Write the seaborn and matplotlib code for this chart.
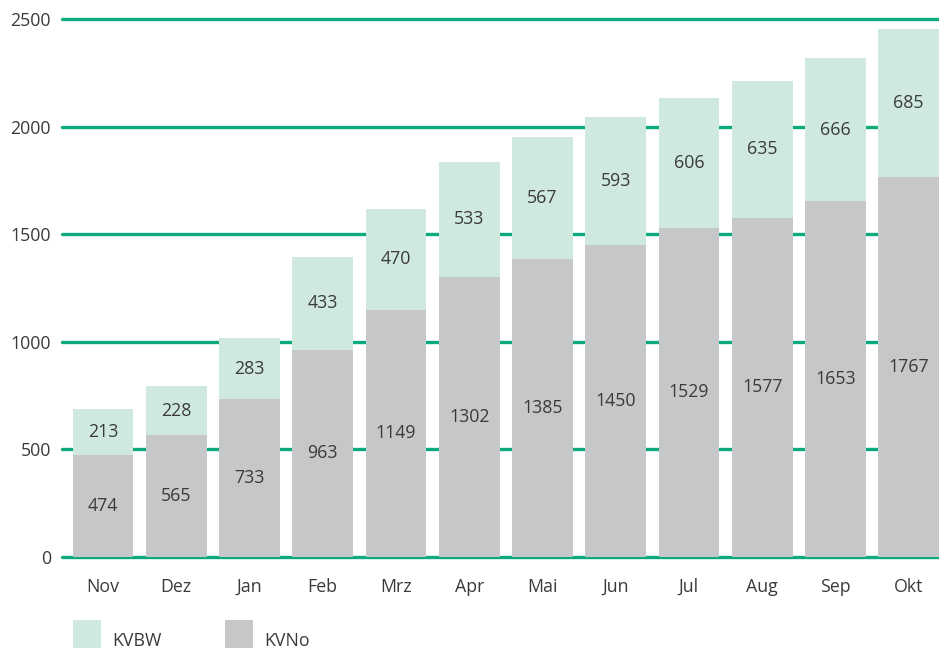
import matplotlib
matplotlib.use("Agg")
import matplotlib.pyplot as plt
from matplotlib.patches import Rectangle
import seaborn as sns
import pandas as pd

months = ["Nov", "Dez", "Jan", "Feb", "Mrz", "Apr", "Mai", "Jun", "Jul", "Aug", "Sep", "Okt"]
kvno = [474, 565, 733, 963, 1149, 1302, 1385, 1450, 1529, 1577, 1653, 1767]
kvbw = [213, 228, 283, 433, 470, 533, 567, 593, 606, 635, 666, 685]
y_ticks = [0, 500, 1000, 1500, 2000, 2500]

GREEN = "#0BAA7C"
LIGHT = "#CFE9DF"
GREY = "#C6C7C9"
TEXT = "#3A3A3A"
FS = 12.8

sns.set_theme(style="white")
plt.rcParams["font.family"] = ["Open Sans", "DejaVu Sans"]

df = pd.DataFrame({"Monat": months, "KVNo": kvno, "KVBW": kvbw})
df["Gesamt"] = df["KVNo"] + df["KVBW"]

W, H = 939, 653
fig = plt.figure(figsize=(W / 100, H / 100), dpi=100)
ax = fig.add_axes([62 / W, (H - 557) / H, (W - 62) / W, (557 - 19) / H])

# horizontal grid lines behind the bars
for v in y_ticks:
    ax.axhline(v, color=GREEN, lw=2.4, zorder=0, clip_on=False)

# stacked bars: full height in KVBW colour, KVNo drawn over the lower part
sns.barplot(data=df, x="Monat", y="Gesamt", color=LIGHT, width=0.83,
            saturation=1, linewidth=0, ax=ax, zorder=2)
sns.barplot(data=df, x="Monat", y="KVNo", color=GREY, width=0.83,
            saturation=1, linewidth=0, ax=ax, zorder=3)

for i in range(len(months)):
    ax.text(i, kvno[i] / 2, str(kvno[i]), ha="center", va="center",
            fontsize=FS, color=TEXT, zorder=4)
    ax.text(i, kvno[i] + kvbw[i] / 2, str(kvbw[i]), ha="center", va="center",
            fontsize=FS, color=TEXT, zorder=4)

ax.set_xlim(-0.56, 11.415)
ax.set_ylim(0, 2500)
ax.set_yticks(y_ticks)
ax.set_yticklabels([str(v) for v in y_ticks])
ax.set_xlabel("")
ax.set_ylabel("")
ax.tick_params(axis="both", length=0, labelsize=FS, labelcolor=TEXT)
ax.tick_params(axis="x", pad=15)
ax.tick_params(axis="y", pad=8)
for s in ax.spines.values():
    s.set_visible(False)

# legend below the chart
legend_items = [("KVBW", LIGHT, 73), ("KVNo", GREY, 225)]
for label, col, x0 in legend_items:
    fig.patches.append(Rectangle((x0 / W, (H - 648) / H), 28 / W, 28 / H,
                                 transform=fig.transFigure, color=col, lw=0))
    fig.text((x0 + 39) / W, (H - 641) / H, label, fontsize=FS,
             color=TEXT, va="center", ha="left")

fig.savefig("out.png", dpi=100)
